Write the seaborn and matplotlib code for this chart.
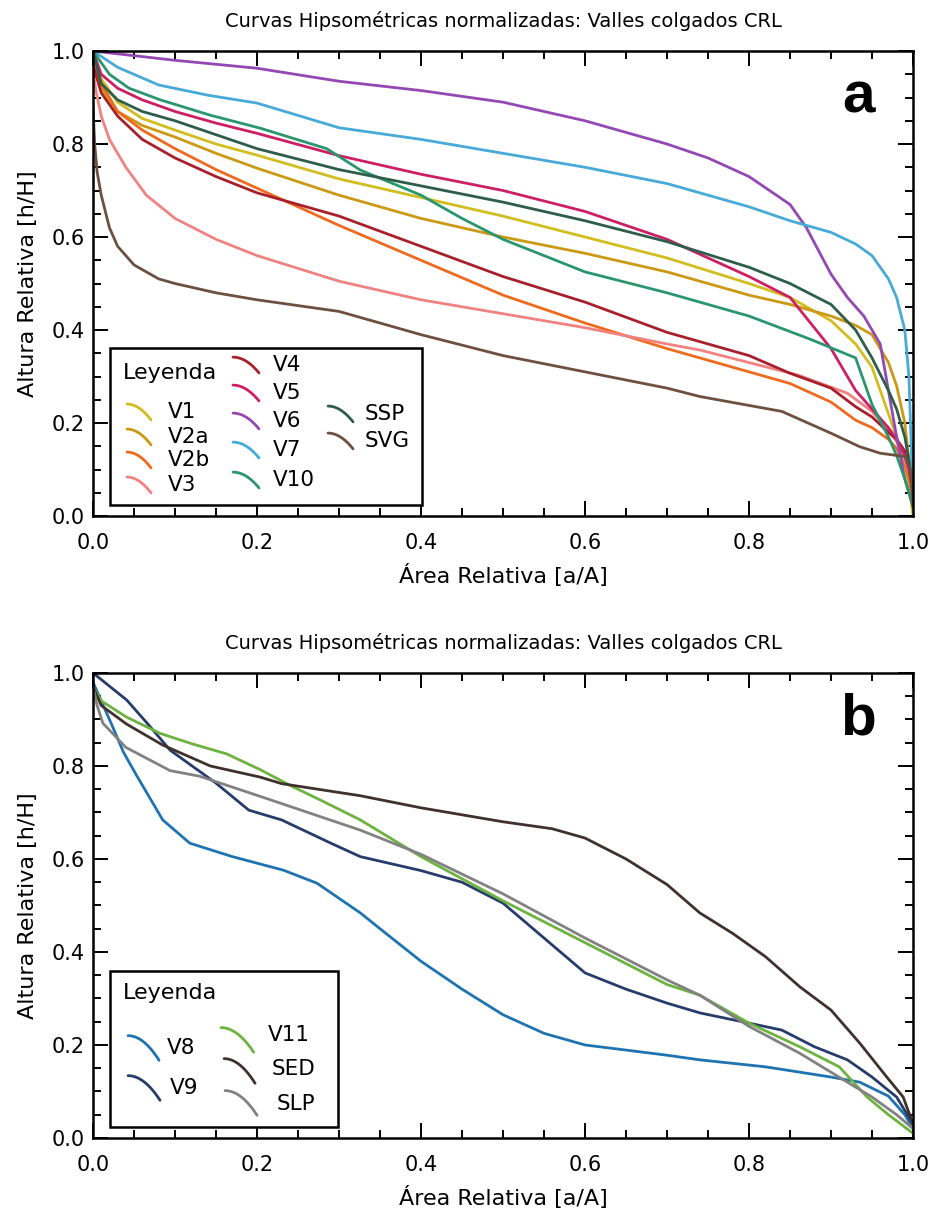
import numpy as np
import pandas as pd
import matplotlib
matplotlib.use("Agg")
import matplotlib.pyplot as plt
import seaborn as sns
from matplotlib.ticker import MultipleLocator, FormatStrFormatter
from matplotlib.patches import Rectangle

# ---------------- data: panel a ----------------
title_txt = "Curvas Hipsométricas normalizadas: Valles colgados CRL"
xlabel_txt = "Área Relativa [a/A]"
ylabel_txt = "Altura Relativa [h/H]"

XA = [0, 0.01, 0.03, 0.06, 0.1, 0.15, 0.2, 0.3, 0.4, 0.5, 0.6, 0.7, 0.8, 0.85,
      0.9, 0.93, 0.95, 0.97, 0.98, 0.99, 0.995, 1.0]
v1_y = [0.99, 0.94, 0.89, 0.855, 0.83, 0.80, 0.776, 0.725, 0.685, 0.645, 0.60, 0.555,
        0.50, 0.47, 0.42, 0.37, 0.32, 0.22, 0.17, 0.11, 0.07, 0.0]
v2a_y = [0.97, 0.92, 0.87, 0.84, 0.815, 0.78, 0.748, 0.69, 0.64, 0.60, 0.565, 0.525,
         0.475, 0.455, 0.43, 0.41, 0.39, 0.33, 0.28, 0.2, 0.12, 0.03]
v2b_y = [0.98, 0.93, 0.87, 0.83, 0.79, 0.745, 0.705, 0.625, 0.55, 0.475, 0.415, 0.36,
         0.31, 0.285, 0.245, 0.206, 0.19, 0.165, 0.145, 0.11, 0.08, 0.04]
v4_y = [0.97, 0.91, 0.86, 0.81, 0.77, 0.73, 0.695, 0.645, 0.58, 0.515, 0.46, 0.395,
        0.345, 0.307, 0.275, 0.235, 0.213, 0.18, 0.165, 0.14, 0.11, 0.05]
v5_y = [1.0, 0.95, 0.92, 0.895, 0.87, 0.845, 0.823, 0.775, 0.735, 0.70, 0.655, 0.595,
        0.515, 0.47, 0.36, 0.27, 0.23, 0.19, 0.165, 0.13, 0.10, 0.05]
ssp_y = [1.0, 0.93, 0.895, 0.87, 0.85, 0.82, 0.79, 0.745, 0.71, 0.675, 0.635, 0.59,
         0.535, 0.50, 0.455, 0.40, 0.34, 0.27, 0.23, 0.17, 0.12, 0.05]

v3_x = [0, 0.003, 0.01, 0.02, 0.04, 0.065, 0.1, 0.15, 0.2, 0.3, 0.4, 0.5, 0.6, 0.7,
        0.74, 0.8, 0.86, 0.92, 0.95, 0.97, 0.98, 0.99, 1.0]
v3_y = [0.96, 0.92, 0.86, 0.81, 0.75, 0.69, 0.64, 0.595, 0.56, 0.505, 0.465, 0.435,
        0.405, 0.37, 0.357, 0.33, 0.303, 0.264, 0.225, 0.185, 0.16, 0.12, 0.07]

v6_x = [0, 0.05, 0.1, 0.2, 0.3, 0.4, 0.5, 0.6, 0.7, 0.75, 0.8, 0.85, 0.87, 0.9, 0.92,
        0.94, 0.96, 0.97, 0.98, 0.99, 1.0]
v6_y = [1.0, 0.99, 0.98, 0.963, 0.935, 0.915, 0.89, 0.85, 0.80, 0.77, 0.73, 0.67, 0.62,
        0.52, 0.47, 0.43, 0.37, 0.27, 0.17, 0.08, 0.02]

v7_x = [0, 0.03, 0.08, 0.14, 0.2, 0.3, 0.4, 0.5, 0.6, 0.7, 0.8, 0.85, 0.9, 0.93, 0.95,
        0.97, 0.98, 0.99, 0.995, 0.998, 1.0]
v7_y = [1.0, 0.965, 0.927, 0.905, 0.888, 0.835, 0.81, 0.78, 0.75, 0.715, 0.665, 0.635,
        0.61, 0.585, 0.56, 0.51, 0.47, 0.40, 0.30, 0.14, 0.05]

v10_x = [0, 0.02, 0.044, 0.082, 0.143, 0.204, 0.285, 0.326, 0.4, 0.45, 0.5, 0.6, 0.7,
         0.8, 0.875, 0.93, 0.95, 0.97, 0.98, 0.99, 1.0]
v10_y = [1.0, 0.95, 0.92, 0.895, 0.862, 0.834, 0.79, 0.744, 0.69, 0.64, 0.595, 0.525,
         0.48, 0.43, 0.38, 0.34, 0.24, 0.17, 0.13, 0.08, 0.02]

svg_x = [0, 0.002, 0.005, 0.01, 0.02, 0.03, 0.05, 0.08, 0.1, 0.15, 0.2, 0.3, 0.4, 0.5,
         0.6, 0.7, 0.74, 0.84, 0.9, 0.935, 0.96, 0.99, 0.997, 1.0]
svg_y = [0.88, 0.80, 0.74, 0.69, 0.62, 0.58, 0.54, 0.51, 0.50, 0.48, 0.465, 0.44, 0.39,
         0.345, 0.31, 0.275, 0.257, 0.225, 0.178, 0.149, 0.135, 0.128, 0.10, 0.02]

names_a = ["V1", "V2a", "V2b", "V3", "V4", "V5", "V6", "V7", "V10", "SSP", "SVG"]
xs_a = [XA, XA, XA, v3_x, XA, XA, v6_x, v7_x, v10_x, XA, svg_x]
ys_a = [v1_y, v2a_y, v2b_y, v3_y, v4_y, v5_y, v6_y, v7_y, v10_y, ssp_y, svg_y]
colors_a = ["#D2BD1F", "#CC9914", "#EE6B1E", "#F08282", "#A8202B", "#CC1F66",
            "#9448B4", "#47AAD8", "#2A966E", "#2E5E4B", "#6E5040"]

# ---------------- data: panel b ----------------
v8_x = [0, 0.01, 0.025, 0.037, 0.053, 0.085, 0.118, 0.17, 0.232, 0.273, 0.326, 0.35,
        0.4, 0.45, 0.5, 0.55, 0.6, 0.7, 0.74, 0.82, 0.9, 0.935, 0.97, 0.99, 1.0]
v8_y = [0.98, 0.94, 0.88, 0.83, 0.78, 0.684, 0.634, 0.605, 0.576, 0.548, 0.484, 0.45,
        0.38, 0.32, 0.265, 0.225, 0.20, 0.178, 0.168, 0.153, 0.131, 0.12, 0.09, 0.05, 0.02]

v9_x = [0, 0.041, 0.066, 0.094, 0.15, 0.19, 0.23, 0.29, 0.326, 0.4, 0.45, 0.5, 0.55,
        0.6, 0.65, 0.7, 0.74, 0.8, 0.84, 0.88, 0.92, 0.95, 0.98, 1.0]
v9_y = [1.0, 0.942, 0.892, 0.834, 0.763, 0.705, 0.684, 0.634, 0.605, 0.575, 0.55, 0.505,
        0.43, 0.355, 0.32, 0.29, 0.269, 0.247, 0.232, 0.196, 0.168, 0.131, 0.088, 0.03]

v11_x = [0, 0.01, 0.041, 0.082, 0.122, 0.163, 0.204, 0.244, 0.277, 0.326, 0.4, 0.5,
         0.6, 0.7, 0.74, 0.8, 0.862, 0.91, 0.944, 0.97, 1.0]
v11_y = [0.97, 0.94, 0.905, 0.87, 0.847, 0.826, 0.792, 0.755, 0.727, 0.684, 0.605,
         0.51, 0.42, 0.33, 0.307, 0.247, 0.196, 0.153, 0.088, 0.05, 0.01]

sed_x = [0, 0.01, 0.041, 0.085, 0.143, 0.204, 0.23, 0.326, 0.4, 0.5, 0.56, 0.6, 0.65,
         0.7, 0.74, 0.78, 0.82, 0.862, 0.9, 0.935, 0.968, 0.988, 1.0]
sed_y = [0.97, 0.93, 0.89, 0.845, 0.80, 0.776, 0.762, 0.736, 0.71, 0.68, 0.665, 0.645,
         0.60, 0.545, 0.484, 0.44, 0.39, 0.325, 0.275, 0.204, 0.131, 0.088, 0.03]

slp_x = [0, 0.005, 0.012, 0.04, 0.094, 0.13, 0.21, 0.326, 0.4, 0.5, 0.6, 0.7, 0.74,
         0.8, 0.862, 0.92, 0.95, 0.98, 1.0]
slp_y = [0.97, 0.93, 0.892, 0.84, 0.79, 0.778, 0.731, 0.662, 0.61, 0.525, 0.43, 0.34,
         0.307, 0.24, 0.182, 0.12, 0.088, 0.05, 0.02]

names_b = ["V8", "V9", "V11", "SED", "SLP"]
xs_b = [v8_x, v9_x, v11_x, sed_x, slp_x]
ys_b = [v8_y, v9_y, v11_y, sed_y, slp_y]
colors_b = ["#1E74B0", "#263C6A", "#6DB33F", "#40312C", "#828282"]


def build(names, xs, ys):
    frames = []
    for n, x, y in zip(names, xs, ys):
        frames.append(pd.DataFrame({"area": x, "altura": y, "serie": n}))
    return pd.concat(frames, ignore_index=True)


df_a = build(names_a, xs_a, ys_a)
df_b = build(names_b, xs_b, ys_b)

sns.set_theme(style="white")
plt.rcParams["font.family"] = ["DejaVu Sans"]

fig = plt.figure(figsize=(9.35, 12.15), dpi=100)
ax_a = fig.add_axes([0.0995, 0.5753, 0.877, 0.3827])
ax_b = fig.add_axes([0.0995, 0.0634, 0.877, 0.3827])

for ax, df, names, cols in [(ax_a, df_a, names_a, colors_a), (ax_b, df_b, names_b, colors_b)]:
    sns.lineplot(data=df, x="area", y="altura", hue="serie", hue_order=names,
                 palette=dict(zip(names, cols)), sort=False, estimator=None,
                 legend=False, linewidth=2.0, ax=ax)


def style(ax, letter):
    ax.set_xlim(0, 1)
    ax.set_ylim(0, 1)
    for axis in (ax.xaxis, ax.yaxis):
        axis.set_major_locator(MultipleLocator(0.2))
        axis.set_minor_locator(MultipleLocator(0.05))
        axis.set_major_formatter(FormatStrFormatter("%.1f"))
    ax.tick_params(which="both", direction="in", top=True, right=True,
                   bottom=True, left=True, width=1.4, color="black")
    ax.tick_params(which="major", length=11, labelsize=15, labelcolor="black")
    ax.tick_params(which="minor", length=5.5)
    ax.tick_params(axis="x", which="major", pad=12)
    ax.tick_params(axis="y", which="major", pad=6)
    for s in ax.spines.values():
        s.set_visible(True)
        s.set_linewidth(1.8)
        s.set_color("black")
    ax.set_xlabel(xlabel_txt, fontsize=16, labelpad=8, color="black")
    ax.set_ylabel(ylabel_txt, fontsize=16, labelpad=10, color="black")
    ax.set_title(title_txt, fontsize=14, pad=17, color="black")
    ax.text(0.933, 0.899, letter, transform=ax.transAxes, ha="center", va="center",
            fontsize=42, fontweight="bold", family=["Liberation Sans", "DejaVu Sans"],
            color="black")


style(ax_a, "a")
style(ax_b, "b")


def legend_box(ax, x0, y0, x1, y1):
    ax.add_patch(Rectangle((x0, y0), x1 - x0, y1 - y0, transform=ax.transAxes,
                           facecolor="white", edgecolor="black", linewidth=1.8,
                           zorder=5))


def legend_item(ax, hx0, hx1, hy, hh, tx, ty, label, color):
    t = np.linspace(0, 1, 40)
    ax.plot(hx0 + (hx1 - hx0) * t, hy + hh / 2 - hh * t ** 2, transform=ax.transAxes,
            color=color, linewidth=2.0, solid_capstyle="round", zorder=6, clip_on=False)
    ax.text(tx, ty, label, transform=ax.transAxes, ha="left", va="center",
            fontsize=15.5, color="black", zorder=7)


# legend a
legend_box(ax_a, 0.0207, 0.0237, 0.401, 0.361)
ax_a.text(0.0366, 0.3075, "Leyenda", transform=ax_a.transAxes, ha="left", va="center",
          fontsize=16, color="black", zorder=7)
cols_a_layout = {
    "V1": (0.0415, 0.0707, 0.2237, 0.0915), "V2a": (0.0415, 0.0707, 0.1699, 0.0915),
    "V2b": (0.0415, 0.0707, 0.1204, 0.0915), "V3": (0.0415, 0.0707, 0.0667, 0.0915),
    "V4": (0.1707, 0.2024, 0.3247, 0.2195), "V5": (0.1707, 0.2024, 0.2645, 0.2195),
    "V6": (0.1707, 0.2024, 0.2043, 0.2195), "V7": (0.1707, 0.2024, 0.1419, 0.2195),
    "V10": (0.1707, 0.2024, 0.0774, 0.2195), "SSP": (0.2866, 0.3171, 0.2194, 0.3317),
    "SVG": (0.2866, 0.3171, 0.1613, 0.3317),
}
for n, c in zip(names_a, colors_a):
    hx0, hx1, hy, tx = cols_a_layout[n]
    legend_item(ax_a, hx0, hx1, hy, 0.034, tx, hy, n, c)

# legend b
legend_box(ax_b, 0.0207, 0.0237, 0.299, 0.36)
ax_b.text(0.0366, 0.312, "Leyenda", transform=ax_b.transAxes, ha="left", va="center",
          fontsize=16, color="black", zorder=7)
cols_b_layout = {
    "V8": (0.0427, 0.0805, 0.1935, 0.0902, 0.1935),
    "V9": (0.0427, 0.0817, 0.1075, 0.0939, 0.1075),
    "V11": (0.156, 0.196, 0.2108, 0.2134, 0.2215),
    "SED": (0.1598, 0.1976, 0.1441, 0.2183, 0.1484),
    "SLP": (0.161, 0.200, 0.0753, 0.2244, 0.0731),
}
for n, c in zip(names_b, colors_b):
    hx0, hx1, hy, tx, ty = cols_b_layout[n]
    legend_item(ax_b, hx0, hx1, hy, 0.053, tx, ty, n, c)

fig.savefig("out.png", dpi=100, facecolor="white")
